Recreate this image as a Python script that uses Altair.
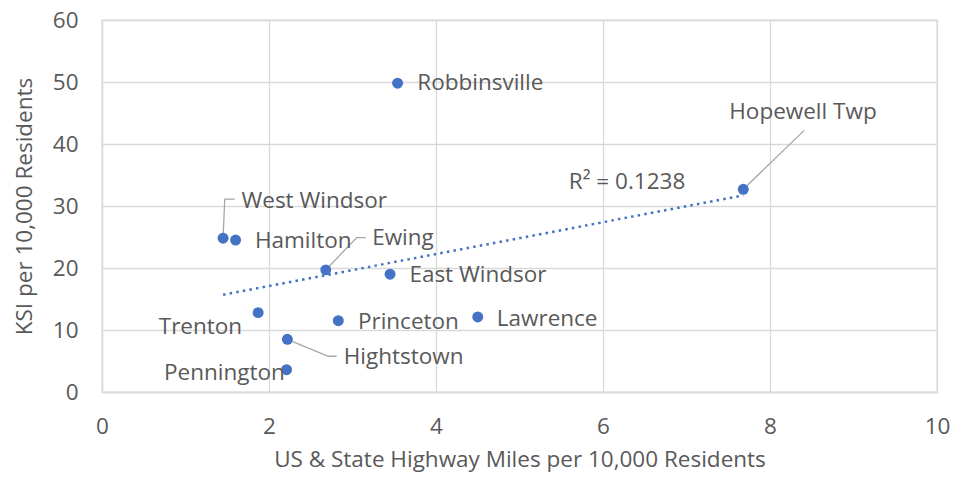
import altair as alt
import pandas as pd

# ---- data ----
towns = ["Robbinsville", "West Windsor", "Hamilton", "Ewing", "East Windsor",
         "Trenton", "Princeton", "Lawrence", "Hightstown", "Pennington", "Hopewell Twp"]
hwy_miles = [3.54, 1.45, 1.60, 2.68, 3.45, 1.87, 2.83, 4.50, 2.22, 2.21, 7.68]
ksi = [49.8, 24.8, 24.5, 19.7, 19.0, 12.8, 11.5, 12.1, 8.5, 3.6, 32.7]

x_ticks = [0, 2, 4, 6, 8, 10]
y_ticks = [0, 10, 20, 30, 40, 50, 60]
r2_text = "R² = 0.1238"

# callout leader lines: bend points (data units) for labels placed away from their point
leader_bends = {
    "West Windsor": [(1.47, 31.1), (1.59, 31.1)],
    "Ewing": [(3.05, 24.9), (3.16, 24.9)],
    "Hightstown": [(2.71, 5.77), (2.81, 5.77)],
    "Hopewell Twp": [(8.41, 42.2)],
}

# label offsets (pixels) and alignment
label_style = {
    "Robbinsville": (19.7, 0, "left"),
    "West Windsor": (18.4, -37.3, "left"),
    "Hamilton": (19.3, 0.7, "left"),
    "Ewing": (46.4, -32, "left"),
    "East Windsor": (19.3, 0.7, "left"),
    "Trenton": (-16, 14.4, "right"),
    "Princeton": (19.6, 1, "left"),
    "Lawrence": (19, 1.6, "left"),
    "Hightstown": (56.3, 17.7, "left"),
    "Pennington": (-1.7, 3.4, "right"),
    "Hopewell Twp": (-14, -77, "left"),
}

FONT = "Open Sans"
TXT = "#595959"
BLUE = "#4472C4"
FS = 22.5

df = pd.DataFrame({"town": towns, "x": hwy_miles, "y": ksi})

xs = alt.Scale(domain=[0, 10], nice=False, zero=False)
ys = alt.Scale(domain=[0, 60], nice=False, zero=False)

base = alt.Chart(df)

xenc = alt.X("x:Q", scale=xs,
             axis=alt.Axis(values=x_ticks, title="US & State Highway Miles per 10,000 Residents",
                           grid=True, ticks=False, labelPadding=23, titlePadding=11,
                           labelFlush=False, format="d"))
yenc = alt.Y("y:Q", scale=ys,
             axis=alt.Axis(values=y_ticks, title="KSI per 10,000 Residents",
                           grid=True, ticks=False, labelPadding=24, titlePadding=16,
                           labelFlush=False, format="d"))

# leader lines
rows = []
for seg, (name, bends) in enumerate(leader_bends.items()):
    i = towns.index(name)
    pts = [(hwy_miles[i], ksi[i])] + bends
    for k, (px, py) in enumerate(pts):
        rows.append({"seg": seg, "ord": k, "x": px, "y": py})
leaders = alt.Chart(pd.DataFrame(rows)).mark_line(color="#A6A6A6", strokeWidth=1.3).encode(
    x=alt.X("x:Q", scale=xs), y=alt.Y("y:Q", scale=ys),
    detail="seg:N", order="ord:Q")

trend = base.transform_regression("x", "y", method="linear").mark_line(
    color=BLUE, strokeWidth=2.5, strokeDash=[2.5, 4.2]).encode(x=xenc, y=yenc)

points = base.mark_circle(size=120, color=BLUE, opacity=1).encode(x=xenc, y=yenc)

labels = []
for name in towns:
    dx, dy, al = label_style[name]
    labels.append(
        base.transform_filter(alt.datum.town == name).mark_text(
            dx=dx, dy=dy, align=al, baseline="middle", font=FONT, fontSize=FS, color=TXT
        ).encode(x=alt.X("x:Q", scale=xs), y=alt.Y("y:Q", scale=ys), text="town:N")
    )

r2 = alt.Chart(pd.DataFrame({"x": [5.59], "y": [33.8], "t": [r2_text]})).mark_text(
    align="left", baseline="middle", font=FONT, fontSize=FS, color=TXT
).encode(x=alt.X("x:Q", scale=xs), y=alt.Y("y:Q", scale=ys), text="t:N")

chart = alt.layer(trend, leaders, points, *labels, r2).properties(
    width=835, height=372,
    autosize=alt.AutoSizeParams(type="none"),
    padding={"left": 94, "top": 12, "right": 20, "bottom": 82},
    background="white",
).configure_axis(
    gridColor="#D9D9D9", domainColor="#D9D9D9", gridWidth=1.3, domainWidth=1.3,
    labelFont=FONT, labelFontSize=FS, labelColor=TXT,
    titleFont=FONT, titleFontSize=FS, titleColor=TXT, titleFontWeight="normal",
).configure_view(stroke="#D9D9D9", strokeWidth=1.3)

chart.save("out.html", embed_options={"renderer": "svg", "actions": False})
